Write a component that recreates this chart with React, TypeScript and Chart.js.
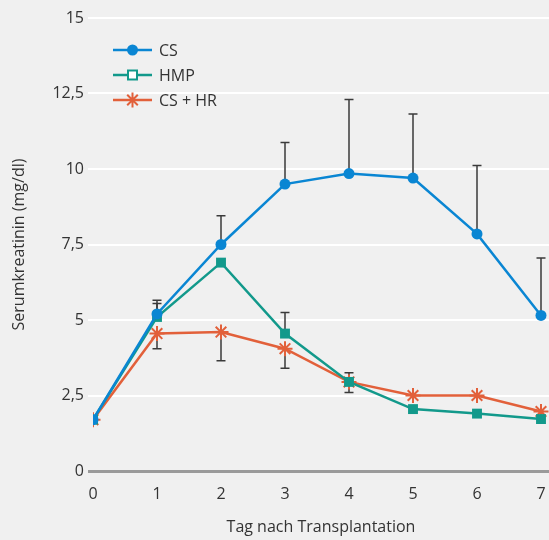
import React, { useEffect, useRef } from "react";
import { Chart, registerables } from "chart.js";

Chart.register(...registerables);

const days = [0, 1, 2, 3, 4, 5, 6, 7];
const yTicks = [0, 2.5, 5, 7.5, 10, 12.5, 15];

const csValues = [1.7, 5.2, 7.5, 9.5, 9.85, 9.7, 7.85, 5.15];
const csErrHigh = [null, 5.65, 8.45, 10.88, 12.3, 11.82, 10.12, 7.05];

const hmpValues = [1.7, 5.1, 6.9, 4.55, 2.95, 2.05, 1.9, 1.72];
const hmpErrHigh = [null, 5.55, null, 5.25, null, null, null, null];

const cshrValues = [1.7, 4.55, 4.6, 4.05, 2.95, 2.5, 2.5, 1.97];
const cshrErrLow = [null, 4.05, 3.65, 3.4, 2.6, null, null, null];
const cshrErrHigh = [null, null, null, null, 3.25, null, null, null];

const seriesNames = ["CS", "HMP", "CS + HR"];
const seriesColors = ["#0a86d3", "#12998b", "#e2603a"];

const FONT = "'Open Sans', 'DejaVu Sans', sans-serif";
const TEXT = "#333333";
const FS = 16;

const errorBarPlugin = {
  id: "errorBars",
  beforeDatasetsDraw(chart: any) {
    const ctx = chart.ctx;
    const xs = chart.scales.x;
    const ys = chart.scales.y;
    const groups = [
      { vals: csValues, ends: [csErrHigh] },
      { vals: hmpValues, ends: [hmpErrHigh] },
      { vals: cshrValues, ends: [cshrErrLow, cshrErrHigh] },
    ];
    ctx.save();
    ctx.strokeStyle = "#3a3a3a";
    ctx.lineWidth = 1.5;
    groups.forEach((g) => {
      g.ends.forEach((arr) => {
        arr.forEach((e, i) => {
          if (e === null || e === undefined) return;
          const x = xs.getPixelForValue(days[i]);
          const y0 = ys.getPixelForValue(g.vals[i]);
          const y1 = ys.getPixelForValue(e);
          ctx.beginPath();
          ctx.moveTo(x, y0);
          ctx.lineTo(x, y1);
          ctx.moveTo(x - 4.5, y1);
          ctx.lineTo(x + 4.5, y1);
          ctx.stroke();
        });
      });
    });
    ctx.restore();
  },
};

const legendPlugin = {
  id: "customLegend",
  afterDraw(chart: any) {
    const ctx = chart.ctx;
    const x0 = 113;
    const x1 = 152;
    const tx = 159;
    const ys = [50, 75, 100];
    ctx.save();
    ys.forEach((y, i) => {
      const c = seriesColors[i];
      ctx.strokeStyle = c;
      ctx.lineWidth = 2.5;
      ctx.beginPath();
      ctx.moveTo(x0, y);
      ctx.lineTo(x1, y);
      ctx.stroke();
      const cx = (x0 + x1) / 2;
      if (i === 0) {
        ctx.fillStyle = c;
        ctx.beginPath();
        ctx.arc(cx, y, 5.5, 0, Math.PI * 2);
        ctx.fill();
      } else if (i === 1) {
        ctx.fillStyle = "#ffffff";
        ctx.fillRect(cx - 4.5, y - 4.5, 9, 9);
        ctx.lineWidth = 2;
        ctx.strokeRect(cx - 4.5, y - 4.5, 9, 9);
      } else {
        ctx.lineWidth = 2;
        const r = 7.5;
        ctx.beginPath();
        for (let k = 0; k < 4; k++) {
          const a = (k * Math.PI) / 4;
          ctx.moveTo(cx + r * Math.cos(a), y + r * Math.sin(a));
          ctx.lineTo(cx - r * Math.cos(a), y - r * Math.sin(a));
        }
        ctx.stroke();
      }
      ctx.fillStyle = TEXT;
      ctx.font = `${FS}px ${FONT}`;
      ctx.textBaseline = "middle";
      ctx.textAlign = "left";
      ctx.fillText(seriesNames[i], tx, y + 1);
    });
    ctx.restore();
  },
};

const bgPlugin = {
  id: "bg",
  beforeDraw(chart: any) {
    const ctx = chart.ctx;
    ctx.save();
    ctx.fillStyle = "#f0f0f0";
    ctx.fillRect(0, 0, chart.width, chart.height);
    ctx.restore();
  },
};

export default function App() {
  const ref = useRef<HTMLCanvasElement | null>(null);

  useEffect(() => {
    if (!ref.current) return;
    const mk = (vals: number[]) => days.map((d, i) => ({ x: d, y: vals[i] }));
    const chart = new Chart(ref.current, {
      type: "line",
      data: {
        datasets: [
          {
            label: seriesNames[2],
            data: mk(cshrValues),
            borderColor: seriesColors[2],
            backgroundColor: seriesColors[2],
            borderWidth: 2.5,
            pointStyle: "star",
            pointRadius: 7.5,
            pointBorderWidth: 2,
            pointBorderColor: seriesColors[2],
            order: 3,
          },
          {
            label: seriesNames[1],
            data: mk(hmpValues),
            borderColor: seriesColors[1],
            backgroundColor: seriesColors[1],
            borderWidth: 2.5,
            pointStyle: "rect",
            pointRadius: 7,
            pointBorderWidth: 0,
            order: 2,
          },
          {
            label: seriesNames[0],
            data: mk(csValues),
            borderColor: seriesColors[0],
            backgroundColor: seriesColors[0],
            borderWidth: 2.5,
            pointStyle: "circle",
            pointRadius: 5.5,
            pointBorderWidth: 0,
            order: 1,
          },
        ],
      },
      options: {
        responsive: false,
        animation: false,
        layout: { autoPadding: false, padding: { top: 18, left: 0, right: 0, bottom: 0 } },
        plugins: {
          legend: { display: false },
          tooltip: { enabled: false },
        },
        scales: {
          x: {
            type: "linear",
            bounds: "data",
            min: 0,
            max: 7.125,
            afterBuildTicks: (s: any) => {
              s.ticks = days.map((v) => ({ value: v }));
            },
            afterFit: (s: any) => {
              s.height = 69;
              s.paddingLeft = 0;
              s.paddingRight = 0;
            },
            grid: { display: false, drawTicks: false },
            border: { display: false },
            ticks: {
              padding: 14,
              color: TEXT,
              font: { family: FONT, size: FS },
              maxRotation: 0,
            },
            title: {
              display: true,
              text: "Tag nach Transplantation",
              color: TEXT,
              font: { family: FONT, size: FS },
              padding: { top: 0, bottom: 3 },
            },
          },
          y: {
            type: "linear",
            min: 0,
            max: 15,
            afterBuildTicks: (s: any) => {
              s.ticks = yTicks.map((v) => ({ value: v }));
            },
            afterFit: (s: any) => {
              s.width = 93;
              s.paddingTop = 0;
              s.paddingBottom = 0;
            },
            grid: {
              color: (c: any) => (c.tick && c.tick.value === 0 ? "#9a9a9a" : "#ffffff"),
              lineWidth: (c: any) => (c.tick && c.tick.value === 0 ? 3 : 2),
              tickLength: 5,
              drawTicks: true,
            },
            border: { display: false },
            ticks: {
              padding: 4,
              color: TEXT,
              font: { family: FONT, size: FS },
              callback: (v: any) => String(v).replace(".", ","),
            },
            title: {
              display: true,
              text: "Serumkreatinin (mg/dl)",
              color: TEXT,
              font: { family: FONT, size: FS },
              padding: { top: 10, bottom: 0 },
            },
          },
        },
      },
      plugins: [bgPlugin, errorBarPlugin, legendPlugin],
    });
    return () => chart.destroy();
  }, []);

  return (
    <div style={{ position: "fixed", left: 0, top: 0, width: 549, height: 540, background: "#f0f0f0" }}>
      <canvas ref={ref} width={549} height={540} style={{ display: "block", width: 549, height: 540 }} />
    </div>
  );
}
